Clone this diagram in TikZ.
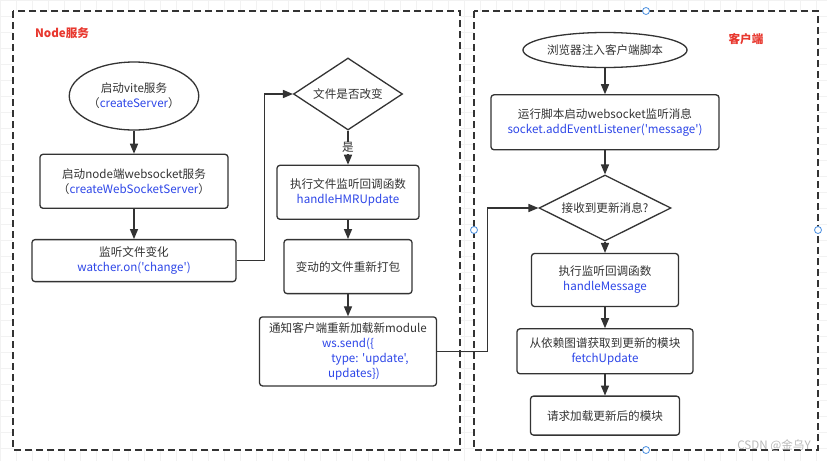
\documentclass[tikz,border=0pt]{standalone}
\usepackage{fontspec}
\setmainfont{Noto Sans CJK SC}
\newfontfamily\codefont{Noto Sans CJK SC}
\usepackage{tikz}
\usetikzlibrary{shapes.geometric, arrows, positioning}
\definecolor{linegray}{HTML}{333333}
\definecolor{textgray}{HTML}{333333}
\definecolor{codeblue}{HTML}{2D46E8}
\definecolor{labelred}{HTML}{E8382F}
\definecolor{handleblue}{HTML}{4A8FE0}
\newcommand{\code}[1]{{\codefont\color{codeblue}#1}}
\tikzstyle{startstop} = [ellipse, inner sep=0pt, align=center, draw=linegray, line width=1.3pt, fill=white]
\tikzstyle{process} = [rectangle, rounded corners=3pt, inner sep=2pt, align=center, draw=linegray, line width=1.3pt, fill=white]
\tikzstyle{decision} = [diamond, inner sep=0pt, align=center, draw=linegray, line width=1.3pt, fill=white]
\tikzstyle{arrow} = [->,>=triangle 45, draw=linegray, line width=1.3pt]
\tikzstyle{group} = [draw=linegray, dash pattern=on 7pt off 4pt, line width=1.4pt, fill=white]
\tikzstyle{handle} = [circle, draw=handleblue, fill=white, line width=0.8pt, minimum size=7pt, inner sep=0pt]
\tikzstyle{gridline} = [draw=gray!10, line width=0.5pt]

\begin{document}
\begin{tikzpicture}[x=1pt, y=-1pt, every node/.style={font=\fontsize{11.6pt}{15pt}\selectfont, text=textgray}]
  \useasboundingbox (0,0) rectangle (827,461);
  \foreach \gx in {0,16,...,827} \draw [gridline] (\gx,0) -- (\gx,461);
  \foreach \gy in {0,16,...,461} \draw [gridline] (0,\gy) -- (827,\gy);
  \draw [group] (13,11) rectangle (460,450);
  \draw [group] (474,11) rectangle (818,450);
  \node (handletop) [handle] at (646,11) {};
  \node (handleleft) [handle] at (474,230) {};
  \node (handleright) [handle] at (818,230) {};
  \node (handlebottom) [handle] at (646,450) {};

  \node (serverlabel) [text=labelred] at (62,33) {\bfseries Node服务};
  \node (clientlabel) [text=labelred] at (746,39) {\bfseries 客户端};

  % Node side
  \node (vite) [startstop, minimum width=122pt, minimum height=68pt] at (134,96) {启动vite服务\\（\code{createServer}）};
  \node (wss) [process, minimum width=188pt, minimum height=54pt, below=23pt of vite] {启动node端websocket服务\\（\code{createWebSocketServer}）};
  \node (watch) [process, minimum width=204pt, minimum height=42pt, below=30pt of wss] {监听文件变化\\\code{watcher.on('change')}};
  \node (changed) [decision, aspect=1.5, minimum width=109pt, minimum height=72pt] at (348,94) {文件是否改变};
  \node (hmr) [process, minimum width=142pt, minimum height=54pt, below=34pt of changed] {执行文件监听回调函数\\\code{handleHMRUpdate}};
  \node (rebuild) [process, minimum width=128pt, minimum height=54pt, below=19pt of hmr] {变动的文件重新打包};
  \node (notify) [process, minimum width=177pt, minimum height=69pt, below=22pt of rebuild] {通知客户端重新加载新module\\\code{ws.send(\{}\\\hspace*{44pt}\code{type: 'update',}\\\hspace*{12pt}\code{updates\})}};

  % client side
  \node (inject) [startstop, minimum width=144pt, minimum height=35pt] at (605,50) {浏览器注入客户端脚本};
  \node (listen) [process, minimum width=228pt, minimum height=55pt, below=26pt of inject] {运行脚本启动websocket监听消息\\\code{socket.addEventListener('message')}};
  \node (recv) [decision, aspect=2, minimum width=132pt, minimum height=66pt] at (605,208) {接收到更新消息?};
  \node (handle) [process, minimum width=147pt, minimum height=53pt] at (605,280) {执行监听回调函数\\\code{handleMessage}};
  \node (fetch) [process, minimum width=176pt, minimum height=45pt, below=21pt of handle] {从依赖图谱获取到更新的模块\\\code{fetchUpdate}};
  \node (load) [process, minimum width=149pt, minimum height=39pt, below=21pt of fetch] {请求加载更新后的模块};

  \node (mark) [text=gray!55] at (774,446) {CSDN @金乌Y};

  \draw [arrow] (vite) -- (wss);
  \draw [arrow] (wss) -- (watch);
  \draw [arrow] (watch.east) -- ++(28,0) |- (changed.west);
  \draw [arrow] (changed) -- node[fill=white, inner sep=1pt] {是} (hmr);
  \draw [arrow] (hmr) -- (rebuild);
  \draw [arrow] (rebuild) -- (notify);
  \draw [arrow] (notify.east) -- ++(50,0) |- (recv.west);
  \draw [arrow] (inject) -- (listen);
  \draw [arrow] (listen) -- (recv);
  \draw [arrow] (recv) -- (handle);
  \draw [arrow] (handle) -- (fetch);
  \draw [arrow] (fetch) -- (load);
\end{tikzpicture}
\end{document}
